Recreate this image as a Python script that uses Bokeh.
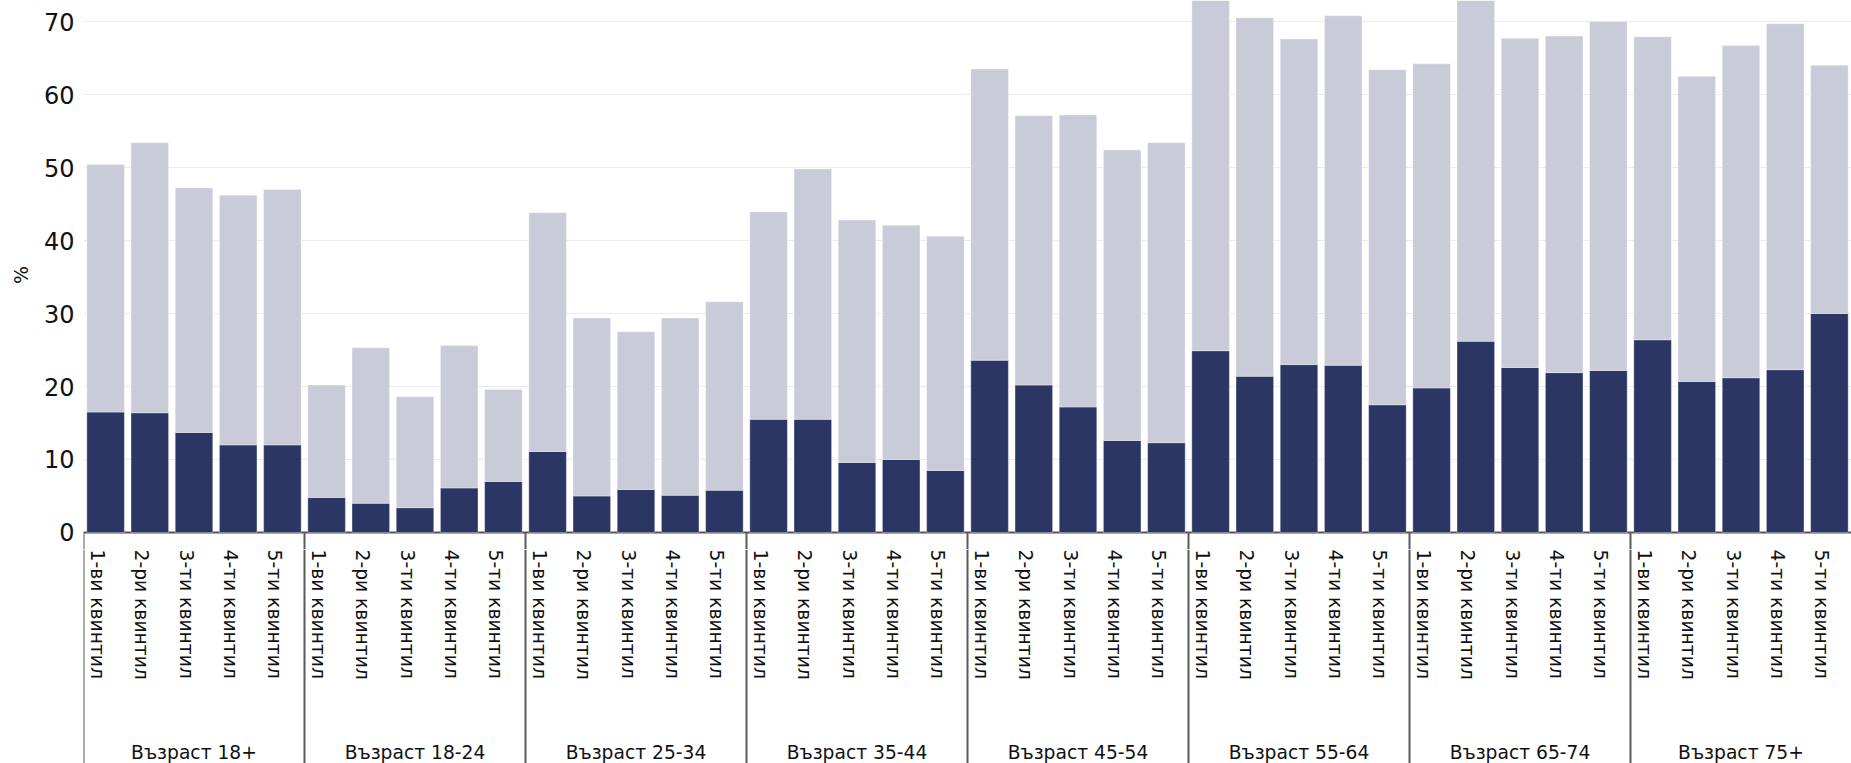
import math
from bokeh.plotting import figure
from bokeh.layouts import column
from bokeh.models import ColumnDataSource, FactorRange, FixedTicker, Range1d, Span
from bokeh.core.properties import value
from bokeh.embed import file_html
from bokeh.resources import INLINE

# ---------------- data ----------------
groups = ["Възраст 18+", "Възраст 18-24", "Възраст 25-34", "Възраст 35-44",
          "Възраст 45-54", "Възраст 55-64", "Възраст 65-74", "Възраст 75+"]
quintiles = ["1-ви квинтил", "2-ри квинтил", "3-ти квинтил",
             "4-ти квинтил", "5-ти квинтил"]

# lower (dark) segment, per group x quintile
dark_values = [
    16.5, 16.4, 13.7, 12.0, 12.0,
    4.8, 4.0, 3.4, 6.1, 7.0,
    11.1, 5.0, 5.9, 5.1, 5.8,
    15.5, 15.5, 9.6, 10.0, 8.5,
    23.6, 20.2, 17.2, 12.6, 12.3,
    24.9, 21.4, 23.0, 22.9, 17.5,
    19.8, 26.2, 22.6, 21.9, 22.2,
    26.4, 20.7, 21.2, 22.3, 30.0,
]
# upper (light) segment, stacked on top of the dark one
light_values = [
    33.9, 37.0, 33.5, 34.2, 35.0,
    15.4, 21.3, 15.2, 19.5, 12.6,
    32.7, 24.4, 21.6, 24.3, 25.8,
    28.4, 34.3, 33.2, 32.1, 32.1,
    39.9, 36.9, 40.0, 39.8, 41.1,
    49.1, 49.1, 44.6, 47.9, 45.9,
    44.4, 47.8, 45.1, 46.1, 47.8,
    41.5, 41.8, 45.5, 47.4, 34.0,
]
y_ticks = [0, 10, 20, 30, 40, 50, 60, 70]
y_label = "%"

# ---------------- styling / layout ----------------
DARK = "#2b3664"
LIGHT = "#cacbd8"
FONT = "DejaVu Sans"
TEXT_COLOR = "#111111"
SEP_COLOR = "#5a5a5a"
W = 1851
TOP_H, BOT_H = 549, 214
LEFT = 83
Y0, Y1 = -2.33, 72.88          # value range of the bar panel
SUB_LABEL_Y = 0                # px from top of label panel
GROUP_LABEL_Y = 203            # px from top of label panel

factors = [(g, q) for g in groups for q in quintiles]
src = ColumnDataSource(dict(x=factors, dark=dark_values, light=light_values))

x_range = FactorRange(factors=factors, range_padding=0, factor_padding=0,
                      group_padding=0, subgroup_padding=0)

# ---------- bar panel ----------
p = figure(x_range=x_range, y_range=Range1d(Y0, Y1),
           width=W, height=TOP_H, output_backend="svg",
           toolbar_location=None, x_axis_location=None,
           min_border_left=LEFT, min_border_right=0, min_border_top=0,
           min_border_bottom=0)
p.outline_line_color = None
p.background_fill_color = "white"
for g in p.grid:
    if g.dimension == 0:
        g.visible = False

p.yaxis.ticker = FixedTicker(ticks=y_ticks)
p.yaxis.axis_line_color = None
p.yaxis.major_tick_line_color = None
p.yaxis.minor_tick_line_color = None
p.yaxis.major_label_standoff = 3
p.yaxis.major_label_text_font = FONT
p.yaxis.major_label_text_font_size = "24px"
p.yaxis.major_label_text_color = TEXT_COLOR
p.yaxis.axis_label = y_label
p.yaxis.axis_label_standoff = 9
p.yaxis.axis_label_text_font = FONT
p.yaxis.axis_label_text_font_size = "19px"
p.yaxis.axis_label_text_font_style = "normal"
p.yaxis.axis_label_text_color = TEXT_COLOR
p.ygrid.grid_line_color = "#ececec"
p.ygrid.grid_line_width = 1

p.add_layout(Span(location=0, dimension="width", line_color="#555555",
                  line_width=2, level="underlay"))

p.vbar_stack(["dark", "light"], x="x", width=0.85, color=[DARK, LIGHT],
             line_color="white", line_alpha=0.35, line_width=1, source=src)

sep_x = [(g, quintiles[0], -0.5) for g in groups]
p.segment(x0=sep_x, y0=[0] * len(groups), x1=sep_x, y1=[Y0] * len(groups),
          line_color=SEP_COLOR, line_width=2)

# ---------- category label panel ----------
q = figure(x_range=x_range, y_range=Range1d(BOT_H, 0),
           width=W, height=BOT_H, output_backend="svg",
           toolbar_location=None, x_axis_location=None, y_axis_location=None,
           min_border_left=LEFT, min_border_right=0, min_border_top=0,
           min_border_bottom=0)
q.outline_line_color = None
q.background_fill_color = "white"
for g in q.grid:
    g.visible = False

q.segment(x0=sep_x, y0=[0] * len(groups), x1=sep_x, y1=[BOT_H] * len(groups),
          line_color=SEP_COLOR, line_width=2)

lab_src = ColumnDataSource(dict(x=factors, y=[SUB_LABEL_Y] * len(factors),
                                t=[f[1] for f in factors]))
q.text(x="x", y="y", text="t", angle=-math.pi / 2, x_offset=-8,
       text_align="left", text_baseline="alphabetic",
       text_font=value(FONT), text_font_size="18.7px", text_color=TEXT_COLOR,
       source=lab_src)

grp_src = ColumnDataSource(dict(x=groups, y=[GROUP_LABEL_Y] * len(groups),
                                t=groups))
q.text(x="x", y="y", text="t", text_align="center", text_baseline="middle",
       text_font=value(FONT), text_font_size="18.7px", text_color=TEXT_COLOR,
       source=grp_src)

layout = column(p, q, spacing=0)
open("out.html", "w").write(file_html(layout, INLINE))
